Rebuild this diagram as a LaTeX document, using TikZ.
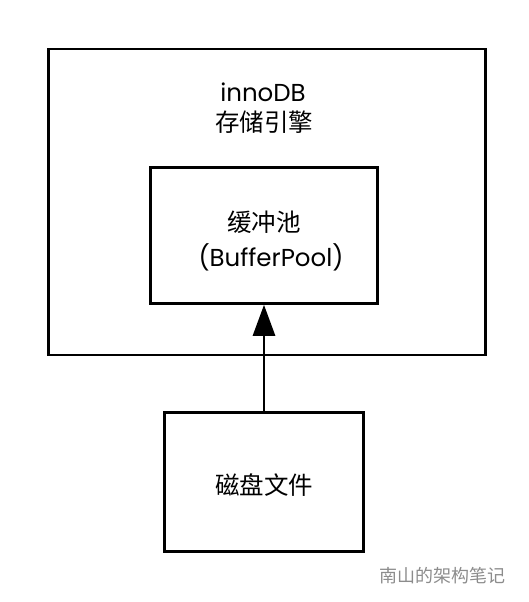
\documentclass[tikz,border=0pt]{standalone}
\usepackage{fontspec}
\setmainfont{Noto Sans CJK SC}
\newfontfamily\latinfont{Poppins}
\usetikzlibrary{arrows.meta}

\begin{document}
\begin{tikzpicture}
	[x=1pt,y=-1pt,
	every node/.style={inner sep=0pt},
	box/.style={shape=rectangle,draw,line width=2.6pt,anchor=center},
	cn label/.style={font=\fontsize{24.5}{29}\selectfont},
	en label/.style={font=\latinfont\fontsize{24.5}{29}\selectfont},
	mark label/.style={text=black!45,font=\fontsize{18}{20}\selectfont}]
	\useasboundingbox (0,0) rectangle (528,602);
	\node[box,minimum width=437pt,minimum height=306pt] (engine) at (267,202) {};
	\node[en label] (engineName) at (263,92) {innoDB};
	\node[cn label] (engineCn) at (264,122) {存储引擎};
	\node[box,minimum width=227pt,minimum height=136pt] (pool) at (264,235.5) {};
	\node[cn label] (poolCn) at (264,222) {缓冲池};
	\node[en label] (poolName) at (271,257) {(BufferPool)};
	\node[box,minimum width=199pt,minimum height=139pt] (disk) at (264,482) {};
	\node[cn label] (diskCn) at (264,485) {磁盘文件};
	\node[mark label] (mark) at (442,576) {南山的架构笔记};
	\path
	\foreach \startNode/\endNode in {disk/pool}
	{
		(\startNode) edge[line width=2.8pt,-{Triangle[length=31pt,width=22pt]}] (\endNode)
	};
\end{tikzpicture}
\end{document}
